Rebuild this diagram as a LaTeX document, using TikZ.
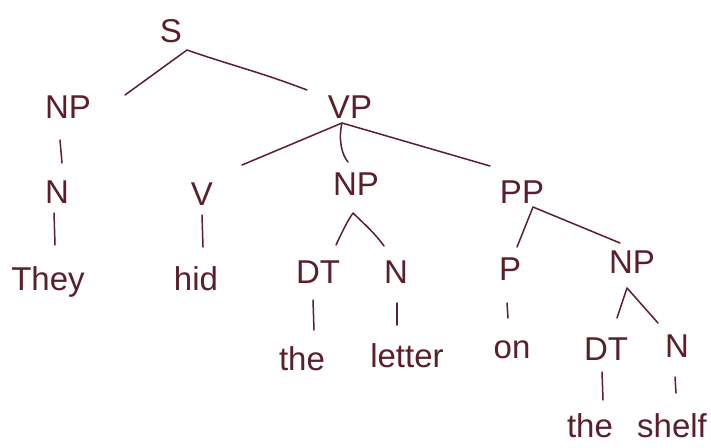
\documentclass[tikz,border=0pt]{standalone}
\usepackage{fontspec}
\setmainfont{Liberation Sans}
\definecolor{ink}{HTML}{5B1F2A}
\begin{document}
\begin{tikzpicture}[x=1pt,y=-1pt,
  lbl/.style={anchor=base, inner sep=0pt, font=\fontsize{33}{33}\selectfont, text=ink},
  edge/.style={draw=ink, line width=1.5pt, line cap=round, line join=round}]
\useasboundingbox[fill=white] (0,0) rectangle (711,447);
% labels
\node[lbl] (S)   at (171,42)  {S};
\node[lbl] (NP1) at (68,118)  {NP};
\node[lbl] (VP)  at (350,118) {VP};
\node[lbl] (N1)  at (57,203)  {N};
\node[lbl] (V)   at (202,205) {V};
\node[lbl] (NP2) at (356,195) {NP};
\node[lbl] (PP)  at (522,203) {PP};
\node[lbl] (DT1) at (318,283) {DT};
\node[lbl] (N2)  at (396,283) {N};
\node[lbl] (P)   at (510,280) {P};
\node[lbl] (NP3) at (632,273) {NP};
\node[lbl] (DT2) at (606,360) {DT};
\node[lbl] (N3)  at (677,357) {N};
% words
\node[lbl] (They)   at (48,290)  {They};
\node[lbl] (hid)    at (196,290) {hid};
\node[lbl] (the1)   at (302,370) {the};
\node[lbl] (letter) at (407,367) {letter};
\node[lbl] (on)     at (512,358) {on};
\node[lbl] (the2)   at (590,437) {the};
\node[lbl] (shelf)  at (672,437) {shelf};
% junctions and connector ends
\coordinate (jS) at (187,50);
\coordinate (eS1) at (125,95);
\coordinate (eS2) at (307,90);
\coordinate (jVP) at (342,123);
\coordinate (eVP1) at (242,165);
\coordinate (eVP2) at (348,162);
\coordinate (eVP3) at (490,166);
\coordinate (jNP2) at (353,213);
\coordinate (eNP2a) at (336,245);
\coordinate (eNP2b) at (384,246);
\coordinate (jPP) at (533,207);
\coordinate (ePP1) at (517,247);
\coordinate (ePP2) at (620,243);
\coordinate (jNP3) at (627,288);
\coordinate (eNP3a) at (617,318);
\coordinate (eNP3b) at (658,323);
% unary ends
\coordinate (u1a) at (60,140);  \coordinate (u1b) at (62,163);
\coordinate (u2a) at (54,213);  \coordinate (u2b) at (55,245);
\coordinate (u3a) at (202,215); \coordinate (u3b) at (203,247);
\coordinate (u4a) at (313,300); \coordinate (u4b) at (314,330);
\coordinate (u5a) at (397,303); \coordinate (u5b) at (397,325);
\coordinate (u6a) at (507,303); \coordinate (u6b) at (508,318);
\coordinate (u7a) at (602,372); \coordinate (u7b) at (603,400);
\coordinate (u8a) at (675,377); \coordinate (u8b) at (676,393);
% branching connectors
\draw[edge] (eS1) -- (jS) .. controls (230,65) and (260,72) .. (eS2);
\draw[edge] (eVP1) -- (jVP) -- (eVP3);
\draw[edge] (jVP) .. controls (338,140) and (342,155) .. (eVP2);
\draw[edge] (eNP2a) .. controls (342,232) and (348,220) .. (jNP2) .. controls (362,222) and (374,232) .. (eNP2b);
\draw[edge] (ePP1) -- (jPP) -- (ePP2);
\draw[edge] (eNP3a) -- (jNP3) -- (eNP3b);
% unary connectors
\draw[edge] (u1a) -- (u1b);
\draw[edge] (u2a) -- (u2b);
\draw[edge] (u3a) -- (u3b);
\draw[edge] (u4a) -- (u4b);
\draw[edge] (u5a) -- (u5b);
\draw[edge] (u6a) -- (u6b);
\draw[edge] (u7a) -- (u7b);
\draw[edge] (u8a) -- (u8b);
\end{tikzpicture}
\end{document}
